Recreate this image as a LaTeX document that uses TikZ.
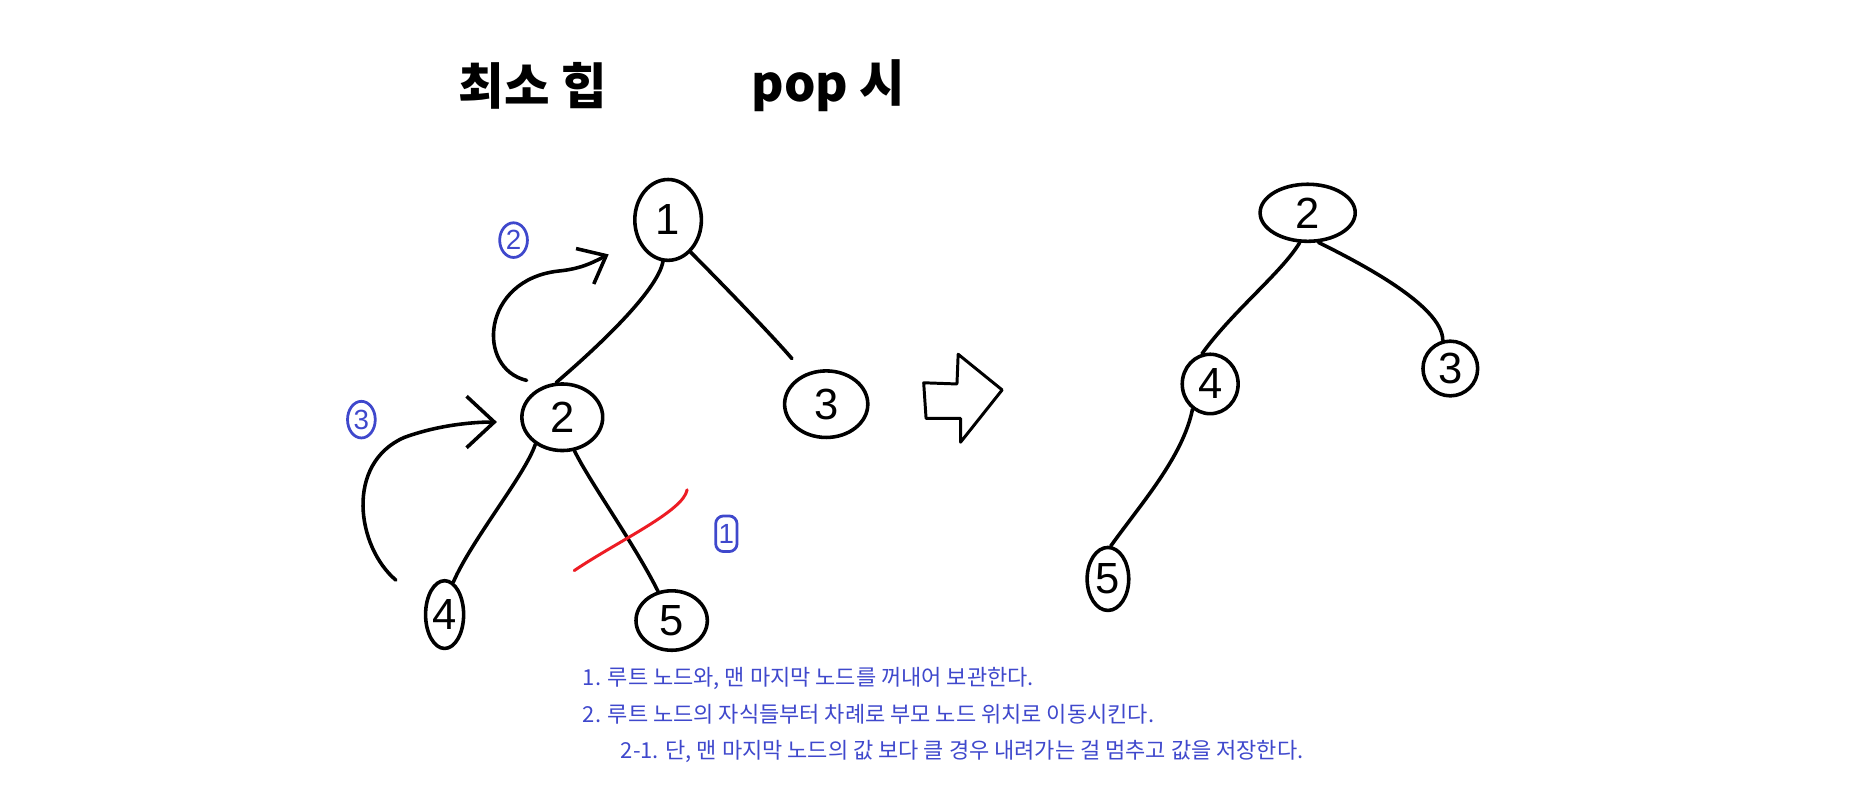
\documentclass[tikz,border=0pt]{standalone}
\usepackage{fontspec}
\setmainfont{Liberation Sans}
\newfontfamily\kr{Noto Sans CJK KR}
\usetikzlibrary{shapes.geometric,arrows.meta}
\definecolor{pblue}{HTML}{3F48CC}
\definecolor{pred}{HTML}{ED1C24}
\begin{document}
\begin{tikzpicture}[x=0.6pt,y=-0.6pt,
  ink/.style={line width=1.8pt,line cap=round,line join=round},
  tnode/.style={ellipse,draw,ink,inner sep=0pt,font=\fontsize{22}{22}\selectfont},
  edge/.style={ink},
  bluemark/.style={ellipse,draw=pblue,line width=1.4pt,inner sep=0pt,text=pblue,font=\fontsize{14}{14}\selectfont},
  note/.style={anchor=west,text=pblue,inner sep=0pt,font=\kr\fontsize{11.1}{11.1}\selectfont},
  title/.style={inner sep=0pt,font=\kr\bfseries\fontsize{25}{25}\selectfont},
  curvearrow/.style={ink,-{Straight Barb[length=12pt,width=20pt,line width=1.8pt]}},
  strike/.style={draw=pred,line width=1.5pt,line cap=round}]
\useasboundingbox (0,0) rectangle (1568,678);

% title
\node[title] (t1) at (448,72) {최소 힙};
\node[title] (t2) at (697,72) {pop 시};

% left tree
\node[tnode,minimum width=33.6pt,minimum height=40.8pt] (L1) at (562,185) {1};
\node[tnode,minimum width=40.8pt,minimum height=33.6pt] (L2) at (473,351) {2};
\node[tnode,minimum width=42pt,minimum height=33.6pt] (L3) at (695,340) {3};
\node[tnode,minimum width=19.2pt,minimum height=34.2pt] (L4) at (374,517) {4};
\node[tnode,minimum width=36pt,minimum height=30pt] (L5) at (565,522) {5};

\draw[edge] (L1.-97) .. controls +(-5,25) and +(35,-30) .. (L2.100);
\draw[edge,shorten >=10pt] (L1.-55) .. controls +(15,15) and +(-30,-35) .. (L3.125);
\draw[edge] (L2.-135) .. controls +(-8,25) and +(15,-35) .. (L4.75);
\draw[edge] (L2.-70) .. controls +(12,25) and +(-20,-40) .. (L5.115);

% red strike
\coordinate (r1) at (483,480);
\coordinate (r2) at (578,412);
\draw[strike] (r1) .. controls (520,455) and (575,430) .. (r2);

% blue step marks
\node[bluemark,rounded corners=4pt,rectangle,minimum width=10.8pt,minimum height=18pt] (m1) at (611,449) {1};
\node[bluemark,minimum width=14pt,minimum height=17.5pt] (m2) at (432,202) {2};
\node[bluemark,minimum width=14pt,minimum height=18.5pt] (m3) at (304,353) {3};

% curved arrows
\coordinate (a2s) at (443,320);
\coordinate (a2e) at (512,214);
\draw[curvearrow] (a2s) .. controls (400,310) and (405,235) .. (470,228) .. controls (490,226) and (500,220) .. (a2e);
\coordinate (a3s) at (333,488);
\coordinate (a3e) at (418,355);
\draw[curvearrow,-{Straight Barb[length=14pt,width=26pt,line width=1.8pt]}] (a3s) .. controls (300,460) and (290,390) .. (340,368) .. controls (370,357) and (400,355) .. (a3e);

% block arrow
\draw[line width=1.5pt,line join=round] (777,322) -- (805,323) -- (806,298) -- (843,328) -- (808,372) -- (808,352) -- (779,352) -- cycle;

% right tree
\node[tnode,minimum width=48pt,minimum height=28.8pt] (R2) at (1100,179) {2};
\node[tnode,minimum width=28.2pt,minimum height=30pt] (R4) at (1018,323) {4};
\node[tnode,minimum width=27.6pt,minimum height=27.6pt] (R3) at (1220,310) {3};
\node[tnode,minimum width=21pt,minimum height=31.8pt] (R5) at (932,487) {5};

\draw[edge] (R2.-105) .. controls +(-15,25) and +(25,-35) .. (R4.105);
\draw[edge] (R2.-70) .. controls +(30,15) and +(0,-30) .. (R3.105);
\draw[edge] (R4.-125) .. controls +(-8,40) and +(25,-35) .. (R5.85);

% notes
\node[note] (n1) at (490,571) {1. 루트 노드와, 맨 마지막 노드를 꺼내어 보관한다.};
\node[note] (n2) at (490,601) {2. 루트 노드의 자식들부터 차례로 부모 노드 위치로 이동시킨다.};
\node[note] (n3) at (522,632) {2-1. 단, 맨 마지막 노드의 값 보다 클 경우 내려가는 걸 멈추고 값을 저장한다.};
\end{tikzpicture}
\end{document}
